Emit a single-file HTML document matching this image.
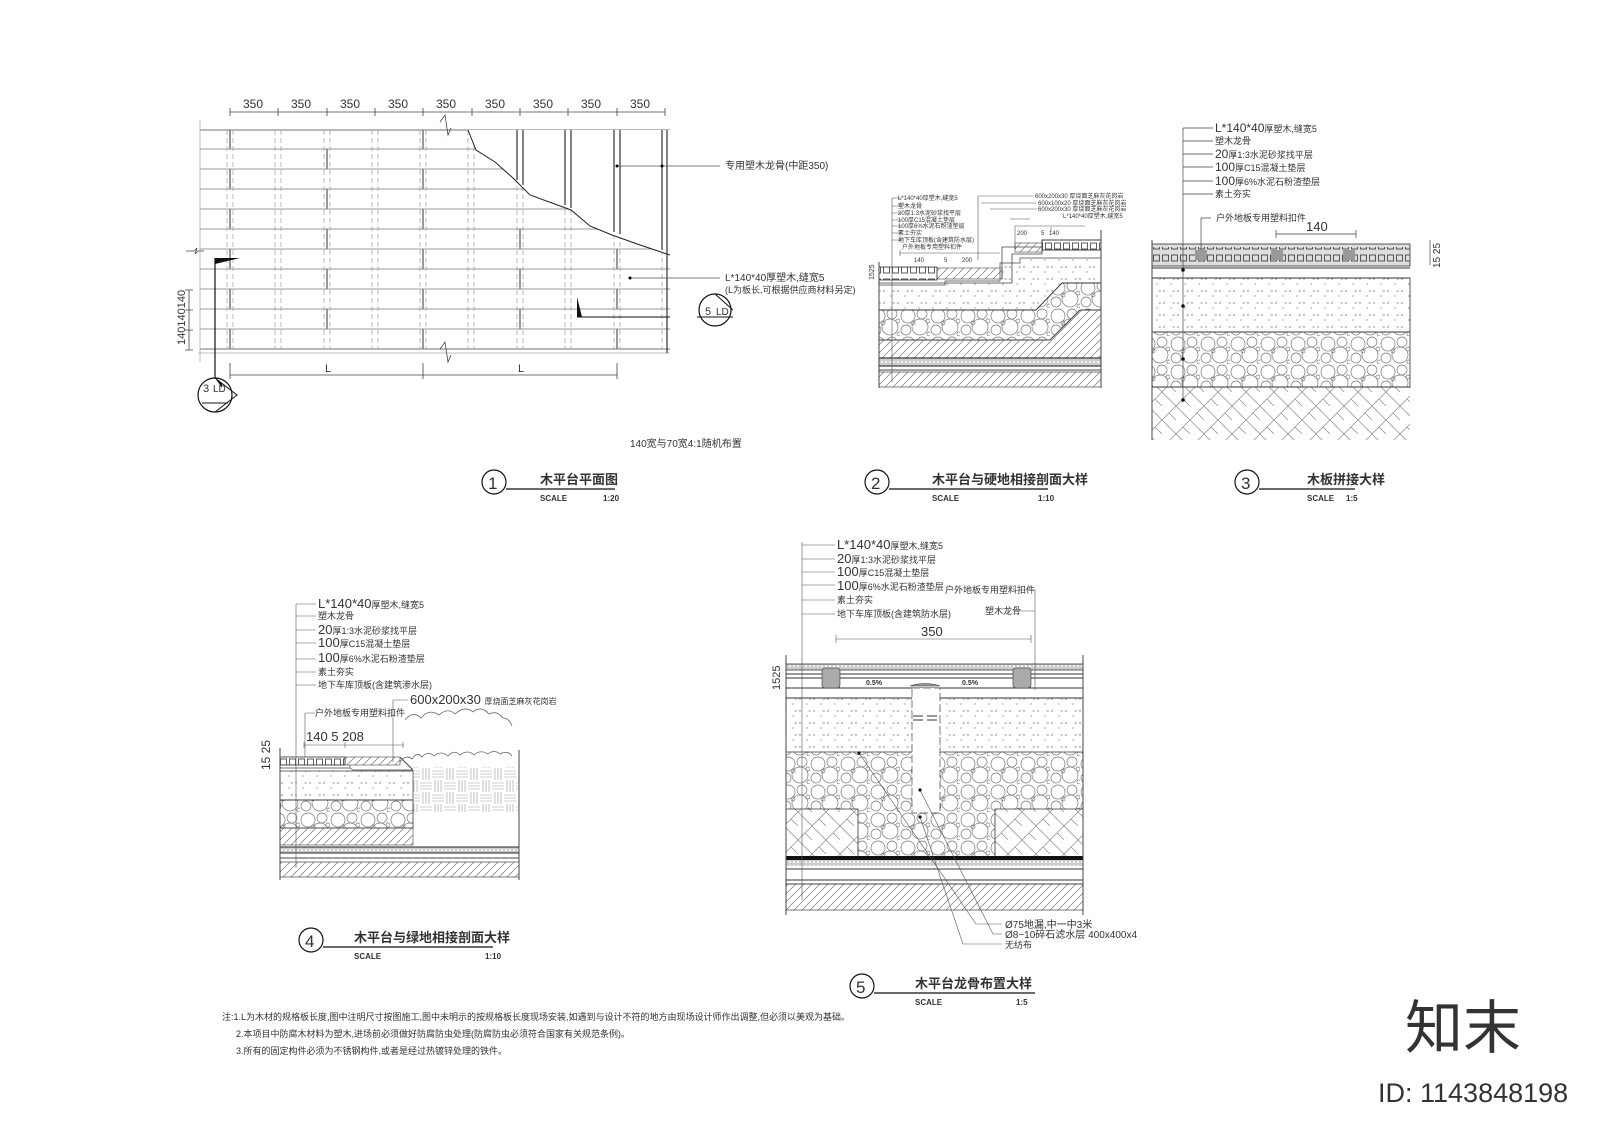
<!DOCTYPE html>
<html><head><meta charset="utf-8"><style>
html,body{margin:0;padding:0;background:#fff}
svg{display:block}
text{font-family:"Liberation Sans","Noto Sans CJK SC",sans-serif;fill:#333}
</style></head><body>
<svg width="1600" height="1130" viewBox="0 0 1600 1130" xmlns="http://www.w3.org/2000/svg">
<defs>
<pattern id="hatch" width="8" height="8" patternUnits="userSpaceOnUse"><path d="M0 8L8 0M-2 2L2 -2M6 10L10 6" stroke="#777" stroke-width="0.7"/></pattern>
<pattern id="herr" width="28" height="28" patternUnits="userSpaceOnUse"><path d="M0 14L14 0M14 28L28 14M0 14L14 28M14 0L28 14M7 7L14 14M21 21L28 28" stroke="#888" stroke-width="0.7" fill="none"/></pattern>
<pattern id="dots" width="14" height="12" patternUnits="userSpaceOnUse"><circle cx="2" cy="3" r="0.7" fill="#666"/><circle cx="9" cy="8" r="0.6" fill="#666"/><path d="M11 2l2 1-2 1z" fill="none" stroke="#888" stroke-width="0.4"/></pattern>
<pattern id="grav" width="30" height="28" patternUnits="userSpaceOnUse"><g fill="none" stroke="#777" stroke-width="0.7"><circle cx="8" cy="8" r="7"/><circle cx="22" cy="6" r="5"/><circle cx="20" cy="19" r="8"/><circle cx="6" cy="22" r="5"/><circle cx="13" cy="15" r="2"/><circle cx="28" cy="13" r="2"/><circle cx="29" cy="26" r="2"/></g></pattern>
<pattern id="board" width="9" height="12" patternUnits="userSpaceOnUse"><rect x="1.5" y="3" width="6" height="6" fill="none" stroke="#333" stroke-width="0.8"/></pattern>
<pattern id="fine" width="4" height="4" patternUnits="userSpaceOnUse"><rect width="4" height="4" fill="#ccc"/><circle cx="2" cy="2" r="1" fill="#fff"/></pattern>
<pattern id="basket" width="24" height="24" patternUnits="userSpaceOnUse"><g stroke="#999" stroke-width="0.6"><path d="M0 3H12M0 6H12M0 9H12M15 0V12M18 0V12M21 0V12M3 12V24M6 12V24M9 12V24M12 15H24M12 18H24M12 21H24"/></g></pattern>
</defs>

<!-- ===== Drawing 1: plan ===== -->
<g stroke="#444" stroke-width="0.8" fill="none">
<line x1="200" y1="130" x2="670" y2="130"/>
<line x1="200" y1="349" x2="670" y2="349"/>
<line x1="198" y1="353" x2="670" y2="353" stroke="#aaa"/>
<path d="M200 149H670M200 169H670M200 189H670M200 209H670M200 229H670M200 249H670M200 269H670M200 289H670M200 309H670M200 329H670" stroke="#777"/>
<line x1="200" y1="120" x2="200" y2="362" stroke="#aaa"/>
</g>
<g stroke="#999" stroke-width="0.7" stroke-dasharray="5,3" fill="none">
<path d="M227 130V349M233 130V349M275 130V349M281 130V349M324 130V349M330 130V349M372 130V349M378 130V349M420 130V349M426 130V349M468 130V349M474 130V349M517 130V349M523 130V349M565 130V349M571 130V349M614 130V349M620 130V349M662 130V349"/>
</g>
<g stroke="#777" stroke-width="1.5" fill="none">
<path d="M230 130V149M327 149V169M423 130V149M230 169V189M327 189V209M423 169V189M230 209V229M327 229V249M423 209V229M520 229V249M230 249V269M327 269V289M423 249V269M520 269V289M617 249V269M230 289V309M327 309V329M423 289V309M520 309V329M617 289V309M230 329V349M423 329V349M617 329V349"/>
</g>
<path d="M468 130L476 150L495 162L513 178L530 195L571 210L590 226L612 235L640 245L670 255L670 130Z" fill="#fff"/>
<path d="M468 130L476 150L495 162L513 178L530 195L571 210L590 226L612 235L640 245L670 255" fill="none" stroke="#222" stroke-width="1"/>
<g stroke="#333" stroke-width="1.2" fill="none">
<path d="M517 130V180M523 130V185M565 130V205M571 130V208M614 130V232M620 130V234M662 130V250M667 130V353"/>
</g>
<path d="M440 122l5 -7 3 20 3 -7" stroke="#444" fill="none" stroke-width="0.8"/>
<path d="M440 349l5 -7 3 20 3 -7" stroke="#444" fill="none" stroke-width="0.8"/>
<path d="M186 251h8l3 -3 -2 6 3 -3h6" stroke="#444" fill="none" stroke-width="0.8"/>
<g stroke="#444" stroke-width="0.8" fill="none"><line x1="230" y1="112" x2="665" y2="112"/>
<path d="M230 108v8M278 108v8M327 108v8M375 108v8M423 108v8M472 108v8M520 108v8M568 108v8M617 108v8M665 108v8"/></g>
<g font-size="12" fill="#555"><text x="243" y="108">350</text><text x="291" y="108">350</text><text x="340" y="108">350</text><text x="388" y="108">350</text><text x="436" y="108">350</text><text x="485" y="108">350</text><text x="533" y="108">350</text><text x="581" y="108">350</text><text x="630" y="108">350</text></g>
<g stroke="#444" stroke-width="0.8" fill="none"><line x1="230" y1="375" x2="617" y2="375"/><path d="M230 363v16M423 363v16M617 363v16"/></g>
<text x="325" y="372" font-size="11" fill="#888">L</text><text x="518" y="372" font-size="11" fill="#888">L</text>
<g stroke="#444" stroke-width="0.8" fill="none"><line x1="189" y1="290" x2="189" y2="350"/><path d="M185 290h8M185 310h8M185 330h8M185 350h8"/></g>
<text transform="translate(185,345) rotate(-90)" font-size="11" fill="#666">140140140</text>
<line x1="215" y1="258" x2="215" y2="382" stroke="#111" stroke-width="1.2"/>
<path d="M215 258L240 258 L215 264Z" fill="#111"/>
<circle cx="215" cy="395" r="17" fill="#fff" stroke="#111" stroke-width="1.2"/>
<path d="M215 378L237 395L215 412" fill="none" stroke="#111" stroke-width="1"/>
<path d="M215 378L222 383L222 388Z" fill="#111"/>
<text x="203" y="392" font-size="11" fill="#111">3</text><text x="213" y="392" font-size="10" fill="#111">LD</text>
<line x1="202" y1="403" x2="228" y2="403" stroke="#111"/>
<path d="M577 297L582 317L577 317Z" fill="#111"/>
<line x1="577" y1="317" x2="670" y2="317" stroke="#111"/>
<circle cx="715" cy="310" r="16" fill="#fff" stroke="#111" stroke-width="1.2"/>
<path d="M697 317H733" stroke="#111" fill="none"/>
<text x="705" y="315" font-size="11" fill="#111">5</text><text x="716" y="315" font-size="10" fill="#111">LD</text>
<path d="M733 310L715 294" stroke="#111" fill="none"/>
<g stroke="#555" stroke-width="0.7"><line x1="617" y1="166" x2="720" y2="166"/><line x1="630" y1="278" x2="720" y2="278"/></g>
<circle cx="617" cy="166" r="1.5"/><circle cx="662" cy="166" r="1.5"/><circle cx="630" cy="278" r="1.5"/>
<text x="725" y="169" font-size="10" fill="#666">专用塑木龙骨(中距350)</text>
<text x="725" y="281" font-size="10" fill="#666">L*140*40厚塑木,缝宽5</text>
<text x="725" y="293" font-size="9" fill="#666">(L为板长,可根据供应商材料另定)</text>
<text x="630" y="447" font-size="10" fill="#777">140宽与70宽4:1随机布置</text>

<!-- ===== Drawing 2 ===== -->
<g>
<rect x="879" y="267" width="58" height="13" fill="url(#board)" stroke="#333" stroke-width="0.8"/>
<rect x="937" y="268" width="65" height="11" fill="url(#hatch)" stroke="#444" stroke-width="0.6"/>
<path d="M1002 279V247H1042V240H1101V250H1042V254H1012V283H879" fill="none" stroke="#444" stroke-width="0.8"/>
<rect x="1015" y="243" width="27" height="9" fill="url(#hatch)" stroke="#444" stroke-width="0.6"/>
<rect x="1042" y="240" width="59" height="10" fill="url(#board)" stroke="#333" stroke-width="0.8"/>
<path d="M879 285H945V281H1000V263H1020V258H1101V283 L1062 283 L1036 310 H879Z" fill="url(#dots)" stroke="#444" stroke-width="0.7"/>
<path d="M879 310H1036L1062 283H1101V310H1080L1050 340H879Z" fill="url(#grav)" stroke="#333" stroke-width="0.9"/>
<path d="M879 340H1050L1080 310H1101V358H879Z" fill="url(#hatch)" stroke="#444" stroke-width="0.6"/>
<rect x="879" y="358" width="222" height="8" fill="url(#fine)" stroke="#111" stroke-width="1"/>
<line x1="879" y1="370" x2="1101" y2="370" stroke="#444"/>
<rect x="879" y="372" width="222" height="15" fill="url(#hatch)" stroke="#444" stroke-width="0.7"/>
<line x1="879" y1="262" x2="879" y2="388" stroke="#444"/>
<line x1="1101" y1="230" x2="1101" y2="388" stroke="#444"/>
<line x1="892" y1="198" x2="892" y2="382" stroke="#555" stroke-width="0.6"/>
<g stroke="#555" stroke-width="0.6" fill="none"><path d="M892 198h10M892 206h10M892 213h10M892 220h10M892 226h10M892 233h10M892 240h10M978 196V260M978 196h55M981 203h55M990 209h47M1010 219h20"/>
<path d="M900 250v6M900 253h100M1015 226v24M1015 226h70M1051 227V232"/></g>
<g font-size="6" fill="#555"><text x="898" y="200">L*140*40厚塑木,缝宽5</text><text x="898" y="208">塑木龙骨</text><text x="898" y="215">20厚1:3水泥砂浆找平层</text><text x="898" y="222">100厚C15混凝土垫层</text><text x="898" y="228">100厚6%水泥石粉渣垫层</text><text x="898" y="235">素土夯实</text><text x="898" y="242">地下车库顶板(含建筑防水层)</text><text x="902" y="249">户外地板专用塑料扣件</text>
<text x="1035" y="198">600x200x30 厚烧面芝麻灰花岗岩</text><text x="1038" y="205">600x100x20 厚烧面芝麻灰花岗岩</text><text x="1038" y="211">600x200x30 厚烧面芝麻灰花岗岩</text><text x="1063" y="218">L*140*40厚塑木,缝宽5</text>
<text x="914" y="262">140</text><text x="944" y="262">5</text><text x="962" y="262">200</text><text x="1017" y="235">200</text><text x="1041" y="235">5</text><text x="1049" y="235">140</text></g>
<text transform="translate(874,280) rotate(-90)" font-size="7" fill="#555">1525</text>
</g>

<!-- ===== Drawing 3 ===== -->
<g>
<rect x="1152" y="244" width="258" height="22" fill="#ddd" stroke="#333" stroke-width="0.8"/>
<rect x="1152" y="247" width="258" height="16" fill="url(#board)"/>
<g fill="#999"><rect x="1195" y="250" width="12" height="10"/><rect x="1271" y="250" width="12" height="10"/><rect x="1343" y="250" width="12" height="10"/></g>
<line x1="1152" y1="268" x2="1410" y2="268" stroke="#333"/><line x1="1152" y1="278" x2="1410" y2="278" stroke="#333"/>
<rect x="1152" y="278" width="258" height="54" fill="url(#dots)" stroke="#333" stroke-width="0.8"/>
<rect x="1152" y="332" width="258" height="55" fill="url(#grav)" stroke="#333" stroke-width="0.8"/>
<rect x="1152" y="387" width="258" height="53" fill="url(#herr)"/>
<line x1="1152" y1="387" x2="1410" y2="387" stroke="#333"/>
<line x1="1152" y1="240" x2="1152" y2="440" stroke="#444"/>
<line x1="1183" y1="128" x2="1183" y2="400" stroke="#444" stroke-width="0.7"/>
<g fill="#111"><circle cx="1183" cy="270" r="1.8"/><circle cx="1183" cy="306" r="1.8"/><circle cx="1183" cy="359" r="1.8"/><circle cx="1183" cy="400" r="1.8"/></g>
<g stroke="#444" stroke-width="0.7" fill="none"><path d="M1183 128h30M1183 141h30M1183 154h30M1183 167h30M1183 181h30M1183 194h30M1201 218h10M1201 218V250M1276 234h80M1276 230v8M1356 230v8M1430 240v25"/></g>
<g fill="#555"><text x="1215" y="132" font-size="12">L*140*40<tspan font-size="9">厚塑木,缝宽5</tspan></text>
<text x="1215" y="144" font-size="9">塑木龙骨</text>
<text x="1215" y="158" font-size="12">20<tspan font-size="9">厚1:3水泥砂浆找平层</tspan></text>
<text x="1215" y="171" font-size="12">100<tspan font-size="9">厚C15混凝土垫层</tspan></text>
<text x="1215" y="185" font-size="12">100<tspan font-size="9">厚6%水泥石粉渣垫层</tspan></text>
<text x="1215" y="197" font-size="9">素土夯实</text>
<text x="1216" y="221" font-size="9">户外地板专用塑料扣件</text>
<text x="1306" y="231" font-size="13">140</text></g>
<text transform="translate(1440,268) rotate(-90)" font-size="10" fill="#555">15 25</text>

<!-- ===== Drawing 4 ===== -->
<g>
<rect x="280" y="757" width="65" height="8" fill="url(#board)" stroke="#333" stroke-width="0.8"/>
<rect x="345" y="757" width="55" height="8" fill="url(#hatch)" stroke="#444" stroke-width="0.6"/>
<path d="M280 768H350V765M350 768L353 770H413" fill="none" stroke="#444" stroke-width="0.7"/>
<path d="M400 757L413 770" stroke="#444" fill="none"/>
<rect x="280" y="771" width="133" height="29" fill="url(#dots)" stroke="#333" stroke-width="0.7"/>
<rect x="280" y="800" width="133" height="28" fill="url(#grav)" stroke="#333" stroke-width="0.8"/>
<rect x="280" y="828" width="133" height="17" fill="url(#hatch)" stroke="#444" stroke-width="0.6"/>
<rect x="413" y="767" width="105" height="45" fill="url(#basket)"/>
<path d="M400 762q6 -8 12 -3q5 -8 10 -2q6 -7 12 -1q7 -6 14 0q6 -7 12 -1q8 -6 14 0q6 -6 14 -1q6 -5 12 0q8 -4 12 2 M405 720q8 -10 16 -2q8 -10 18 -3q9 -8 16 -1q10 -9 18 -2q8 -7 16 2q8 -4 14 4q6 0 9 8" fill="none" stroke="#666" stroke-width="0.8"/>
<rect x="280" y="847" width="239" height="6" fill="url(#fine)" stroke="#111" stroke-width="0.9"/>
<line x1="280" y1="858" x2="519" y2="858" stroke="#444"/>
<rect x="280" y="862" width="239" height="15" fill="url(#hatch)" stroke="#444" stroke-width="0.7"/>
<line x1="280" y1="748" x2="280" y2="880" stroke="#444"/><line x1="519" y1="750" x2="519" y2="880" stroke="#444"/>
<line x1="296" y1="604" x2="296" y2="868" stroke="#555" stroke-width="0.6"/>
<g stroke="#555" stroke-width="0.6" fill="none"><path d="M296 604h20M296 616h20M296 630h20M296 643h20M296 659h20M296 672h20M296 685h20M305 713h10M305 713V757M393 700h15M393 700V762M304 745h100M304 742v6M345 742v6M403 742v6"/></g>
<g fill="#555"><text x="318" y="608" font-size="13">L*140*40<tspan font-size="9">厚塑木,缝宽5</tspan></text>
<text x="318" y="619" font-size="9">塑木龙骨</text>
<text x="318" y="634" font-size="13">20<tspan font-size="9">厚1:3水泥砂浆找平层</tspan></text>
<text x="318" y="647" font-size="13">100<tspan font-size="9">厚C15混凝土垫层</tspan></text>
<text x="318" y="662" font-size="13">100<tspan font-size="9">厚6%水泥石粉渣垫层</tspan></text>
<text x="318" y="675" font-size="9">素土夯实</text>
<text x="318" y="688" font-size="9">地下车库顶板(含建筑渗水层)</text>
<text x="410" y="704" font-size="13">600x200x30 <tspan font-size="8">厚烧面芝麻灰花岗岩</tspan></text>
<text x="315" y="716" font-size="9">户外地板专用塑料扣件</text>
<text x="306" y="741" font-size="13">140 5  208</text></g>
<text transform="translate(270,770) rotate(-90)" font-size="12" fill="#555">15  25</text>
</g>

<!-- ===== Drawing 5 ===== -->
<g>
<rect x="786" y="664" width="297" height="6" fill="url(#fine)" stroke="#333" stroke-width="0.8"/>
<line x1="786" y1="674" x2="1083" y2="674" stroke="#333"/>
<line x1="786" y1="678" x2="1083" y2="678" stroke="#333"/>
<line x1="786" y1="688" x2="1083" y2="688" stroke="#333"/>
<g fill="#aaa" stroke="#333" stroke-width="0.6"><rect x="822" y="668" width="18" height="20" rx="3"/><rect x="1013" y="668" width="18" height="20" rx="3"/></g>
<text x="866" y="685" font-size="7" font-weight="bold" fill="#111">0.5%</text><text x="962" y="685" font-size="7" font-weight="bold" fill="#111">0.5%</text>
<path d="M910 686q15 -5 30 0z" fill="#999" stroke="#333" stroke-width="0.6"/>
<line x1="786" y1="698" x2="1083" y2="698" stroke="#333"/>
<rect x="786" y="698" width="297" height="54" fill="url(#dots)"/>
<rect x="786" y="752" width="297" height="57" fill="url(#grav)"/>
<rect x="786" y="809" width="72" height="48" fill="url(#herr)"/><rect x="995" y="809" width="88" height="48" fill="url(#herr)"/>
<rect x="858" y="809" width="137" height="48" fill="url(#grav)"/>
<path d="M786 752H1083M786 809H858V857M995 857V809H1083" fill="none" stroke="#333" stroke-width="0.8"/>
<rect x="912" y="688" width="28" height="125" fill="#fff" stroke="#444" stroke-width="0.7" stroke-dasharray="8,3"/>
<path d="M913 716h10M927 716h10M913 720h10M927 720h10" stroke="#333" fill="none"/>
<rect x="786" y="856" width="297" height="4" fill="#111"/>
<rect x="786" y="860" width="297" height="6" fill="url(#fine)"/>
<line x1="786" y1="869" x2="1083" y2="869" stroke="#333"/>
<line x1="786" y1="880" x2="1083" y2="880" stroke="#333"/><line x1="786" y1="884" x2="1083" y2="884" stroke="#333"/>
<rect x="786" y="884" width="297" height="26" fill="url(#hatch)" stroke="#444" stroke-width="0.7"/>
<line x1="786" y1="655" x2="786" y2="915" stroke="#444"/><line x1="1083" y1="655" x2="1083" y2="915" stroke="#444"/>
<line x1="802" y1="542" x2="802" y2="900" stroke="#555" stroke-width="0.6"/>
<g stroke="#555" stroke-width="0.6" fill="none"><path d="M802 545h33M802 559h33M802 572h33M802 585h33M802 600h33M802 614h33M1020 590h15V690M1020 611h15M836 639h195M836 635v8M1031 635v8"/>
<path d="M859 753L976 924H1002M920 790L993 934H1002M920 817L963 944H1002"/></g>
<g fill="#111"><circle cx="859" cy="753" r="1.6"/><circle cx="920" cy="790" r="1.6"/><circle cx="920" cy="817" r="1.6"/></g>
<g fill="#555"><text x="837" y="549" font-size="13">L*140*40<tspan font-size="9">厚塑木,缝宽5</tspan></text>
<text x="837" y="563" font-size="13">20<tspan font-size="9">厚1:3水泥砂浆找平层</tspan></text>
<text x="837" y="576" font-size="13">100<tspan font-size="9">厚C15混凝土垫层</tspan></text>
<text x="837" y="590" font-size="13">100<tspan font-size="9">厚6%水泥石粉渣垫层</tspan></text>
<text x="837" y="603" font-size="9">素土夯实</text>
<text x="837" y="617" font-size="9">地下车库顶板(含建筑防水层)</text>
<text x="945" y="593" font-size="9">户外地板专用塑料扣件</text>
<text x="985" y="614" font-size="9">塑木龙骨</text>
<text x="921" y="636" font-size="13">350</text>
<text x="1005" y="928" font-size="10">Ø75地漏,中一中3米</text>
<text x="1005" y="938" font-size="10">Ø8~10碎石滤水层 400x400x4</text>
<text x="1005" y="948" font-size="9">无纺布</text></g>
<text transform="translate(780,690) rotate(-90)" font-size="11" fill="#555">1525</text>
</g>

<!-- ===== Titles ===== -->
<g stroke="#111" stroke-width="1.2" fill="none">
<circle cx="494" cy="482" r="12"/><path d="M506 489H615"/>
<circle cx="877" cy="482" r="12"/><path d="M889 489H1048"/>
<circle cx="1247" cy="482" r="12"/><path d="M1259 489H1355"/>
<circle cx="311" cy="940" r="12"/><path d="M323 947H493"/>
<circle cx="862" cy="986" r="12"/><path d="M874 993H1035"/>
</g>
<g fill="#111">
<text x="488" y="489" font-size="17">1</text><text x="871" y="489" font-size="17">2</text><text x="1241" y="489" font-size="17">3</text><text x="305" y="947" font-size="17">4</text><text x="856" y="993" font-size="17">5</text>
<text x="540" y="484" font-size="13" font-weight="bold">木平台平面图</text><text x="540" y="501" font-size="8" font-weight="bold">SCALE</text><text x="603" y="501" font-size="8" font-weight="bold">1:20</text>
<text x="932" y="484" font-size="13" font-weight="bold">木平台与硬地相接剖面大样</text><text x="932" y="501" font-size="8" font-weight="bold">SCALE</text><text x="1038" y="501" font-size="8" font-weight="bold">1:10</text>
<text x="1307" y="484" font-size="13" font-weight="bold">木板拼接大样</text><text x="1307" y="501" font-size="8" font-weight="bold">SCALE</text><text x="1346" y="501" font-size="8" font-weight="bold">1:5</text>
<text x="354" y="942" font-size="13" font-weight="bold">木平台与绿地相接剖面大样</text><text x="354" y="959" font-size="8" font-weight="bold">SCALE</text><text x="485" y="959" font-size="8" font-weight="bold">1:10</text>
<text x="915" y="988" font-size="13" font-weight="bold">木平台龙骨布置大样</text><text x="915" y="1005" font-size="8" font-weight="bold">SCALE</text><text x="1016" y="1005" font-size="8" font-weight="bold">1:5</text>
</g>
<g fill="#555" font-size="9">
<text x="222" y="1020">注:1.L为木材的规格板长度,图中注明尺寸按图施工,图中未明示的按规格板长度现场安装,如遇到与设计不符的地方由现场设计师作出调整,但必须以美观为基础。</text>
<text x="236" y="1037">2.本项目中防腐木材料为塑木,进场前必须做好防腐防虫处理(防腐防虫必须符合国家有关规范条例)。</text>
<text x="236" y="1054">3.所有的固定构件必须为不锈钢构件,或者是经过热镀锌处理的铁件。</text>
</g>
<text x="1405" y="1048" font-size="58" fill="#c8c8c8" font-family="Noto Sans CJK SC,sans-serif">知末</text>
<text x="1378" y="1102" font-size="27" fill="#c8c8c8">ID: 1143848198</text>
</svg>
</body></html>
